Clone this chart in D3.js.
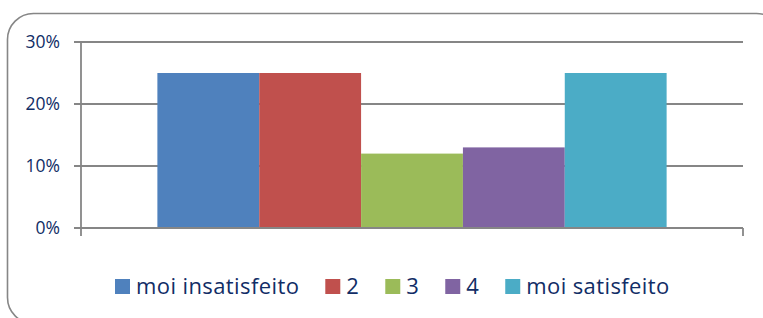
<!DOCTYPE html>
<html>
<head>
<meta charset="utf-8">
<script src="https://cdn.jsdelivr.net/npm/d3@7"></script>
<style>
  body { margin: 0; background: #fff; }
  svg { display: block; font-family: "Open Sans", Lato, sans-serif; }
</style>
</head>
<body>
<div class="chart"></div>
<script>
// valores
var categorias = ["moi insatisfeito", "2", "3", "4", "moi satisfeito"];
var valores = [0.25, 0.25, 0.12, 0.13, 0.25];
var cores = ["#4F81BD", "#C0504D", "#9BBB59", "#8064A2", "#4BACC6"];
var ticks = [0, 0.1, 0.2, 0.3];

var width = 763, height = 318;
var textColor = "#112D66";
var lineColor = "#868686";

var svg = d3.select("div.chart").append("svg")
    .attr("width", width)
    .attr("height", height);

// moldura arredondada
svg.append("rect")
    .attr("x", 7.5).attr("y", 13.5)
    .attr("width", 775).attr("height", 310)
    .attr("rx", 26).attr("ry", 26)
    .attr("fill", "none")
    .attr("stroke", lineColor)
    .attr("stroke-width", 1.6);

var plotL = 81, plotR = 743, plotT = 42, plotB = 228;

var y = d3.scaleLinear().domain([0, 0.3]).range([plotB, plotT]);

// gap width 150% estilo Excel
var gap = 1.5;
var bw = (plotR - plotL) / (categorias.length + gap);
var x = d3.scaleBand()
    .domain(categorias)
    .range([plotL + bw * gap / 2, plotR - bw * gap / 2])
    .padding(0);

// grelha
svg.append("g").selectAll("line")
    .data(ticks)
    .enter().append("line")
    .attr("x1", plotL - 7).attr("x2", plotR)
    .attr("y1", d => y(d)).attr("y2", d => y(d))
    .attr("stroke", lineColor)
    .attr("stroke-width", 1.8);

// barras
svg.append("g").selectAll("rect")
    .data(valores)
    .enter().append("rect")
    .attr("x", (d, i) => x(categorias[i]))
    .attr("width", x.bandwidth())
    .attr("y", d => y(d))
    .attr("height", d => y(0) - y(d))
    .attr("fill", (d, i) => cores[i]);

// eixos
svg.append("line")
    .attr("x1", plotL).attr("x2", plotL)
    .attr("y1", plotT).attr("y2", plotB + 8)
    .attr("stroke", lineColor).attr("stroke-width", 1.8);
svg.append("line")
    .attr("x1", plotL - 7).attr("x2", plotR)
    .attr("y1", plotB).attr("y2", plotB)
    .attr("stroke", lineColor).attr("stroke-width", 1.8);
svg.append("line")
    .attr("x1", plotR).attr("x2", plotR)
    .attr("y1", plotB).attr("y2", plotB + 8)
    .attr("stroke", lineColor).attr("stroke-width", 1.8);

// rotulos do eixo y
svg.append("g").selectAll("text")
    .data(ticks)
    .enter().append("text")
    .attr("x", 60)
    .attr("y", d => y(d))
    .attr("dy", "0.36em")
    .attr("text-anchor", "end")
    .attr("fill", textColor)
    .style("font-size", "17.5px")
    .text(d => d3.format(".0%")(d));

// legenda
var legenda = svg.append("g").attr("class", "legenda");
var lx = 115, ly = 286, box = 15;
categorias.forEach(function(c, i) {
    legenda.append("rect")
        .attr("x", lx).attr("y", ly - box / 2 + 0.5)
        .attr("width", box).attr("height", box)
        .attr("fill", cores[i]);
    var t = legenda.append("text")
        .attr("x", lx + box + 6)
        .attr("y", ly)
        .attr("dy", "0.36em")
        .attr("fill", textColor)
        .style("font-size", "22px")
        .style("letter-spacing", "0.4px")
        .text(c);
    lx += box + 6 + t.node().getComputedTextLength() + 26;
});
</script>
</body>
</html>
